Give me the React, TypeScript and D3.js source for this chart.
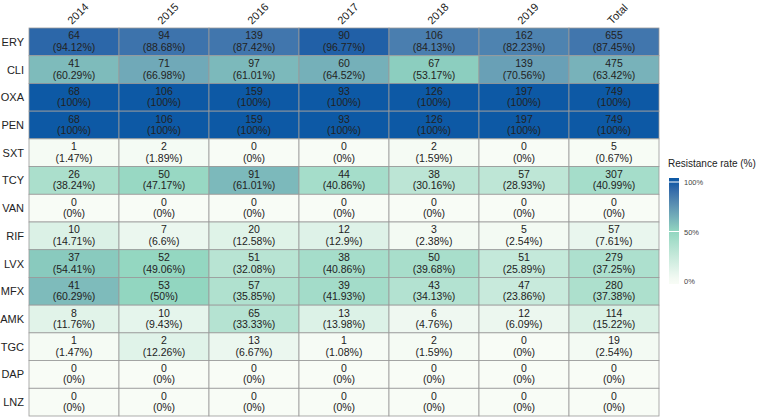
import React from "react";
import * as d3 from "d3";

const columns = ["2014", "2015", "2016", "2017", "2018", "2019", "Total"];
const drugs = ["ERY", "CLI", "OXA", "PEN", "SXT", "TCY", "VAN", "RIF", "LVX", "MFX", "AMK", "TGC", "DAP", "LNZ"];

const counts: number[][] = [
  [64, 94, 139, 90, 106, 162, 655],
  [41, 71, 97, 60, 67, 139, 475],
  [68, 106, 159, 93, 126, 197, 749],
  [68, 106, 159, 93, 126, 197, 749],
  [1, 2, 0, 0, 2, 0, 5],
  [26, 50, 91, 44, 38, 57, 307],
  [0, 0, 0, 0, 0, 0, 0],
  [10, 7, 20, 12, 3, 5, 57],
  [37, 52, 51, 38, 50, 51, 279],
  [41, 53, 57, 39, 43, 47, 280],
  [8, 10, 65, 13, 6, 12, 114],
  [1, 2, 13, 1, 2, 0, 19],
  [0, 0, 0, 0, 0, 0, 0],
  [0, 0, 0, 0, 0, 0, 0],
];

const rates: number[][] = [
  [94.12, 88.68, 87.42, 96.77, 84.13, 82.23, 87.45],
  [60.29, 66.98, 61.01, 64.52, 53.17, 70.56, 63.42],
  [100, 100, 100, 100, 100, 100, 100],
  [100, 100, 100, 100, 100, 100, 100],
  [1.47, 1.89, 0, 0, 1.59, 0, 0.67],
  [38.24, 47.17, 61.01, 40.86, 30.16, 28.93, 40.99],
  [0, 0, 0, 0, 0, 0, 0],
  [14.71, 6.6, 12.58, 12.9, 2.38, 2.54, 7.61],
  [54.41, 49.06, 32.08, 40.86, 39.68, 25.89, 37.25],
  [60.29, 50, 35.85, 41.93, 34.13, 23.86, 37.38],
  [11.76, 9.43, 33.33, 13.98, 4.76, 6.09, 15.22],
  [1.47, 12.26, 6.67, 1.08, 1.59, 0, 2.54],
  [0, 0, 0, 0, 0, 0, 0],
  [0, 0, 0, 0, 0, 0, 0],
];

const legendTicks = [0, 50, 100];
const legendTitle = "Resistance rate (%)";

const W = 760;
const H = 419;
const FONT = "Liberation Sans, Arial, Helvetica, sans-serif";

export default function App() {
  const x = d3.scaleBand<string>().domain(columns).range([29, 659]);
  const y = d3.scaleBand<string>().domain(drugs).range([28, 416]);
  const color = d3
    .scaleLinear<string>()
    .domain([0, 50, 100])
    .range(["#f8fcf6", "#92d6c0", "#0d59a5"])
    .interpolate(d3.interpolateLab)
    .clamp(true);

  const ly = d3.scaleLinear().domain([0, 100]).range([281, 182]);
  const barTop = 178;
  const barBottom = 284;
  const stops = d3.range(0, 21).map((i) => {
    const py = barTop + ((barBottom - barTop) * i) / 20;
    return { off: i / 20, c: color(ly.invert(py)) };
  });

  return (
    <svg
      width={W}
      height={H}
      style={{ position: "absolute", left: 0, top: 0, background: "#fff" }}
      fontFamily={FONT}
    >
      <defs>
        <linearGradient id="lg" x1="0" y1="0" x2="0" y2="1">
          {stops.map((s, i) => (
            <stop key={i} offset={s.off} stopColor={s.c} />
          ))}
        </linearGradient>
      </defs>
      {drugs.map((d, ri) =>
        columns.map((c, ci) => {
          const cx = (x(c) as number) + x.bandwidth() / 2;
          const cy = (y(d) as number) + y.bandwidth() / 2;
          return (
            <g key={d + c}>
              <rect
                x={x(c)}
                y={y(d)}
                width={x.bandwidth()}
                height={y.bandwidth()}
                fill={color(rates[ri][ci])}
                stroke="#9a9a9a"
                strokeWidth={0.8}
              />
              <text x={cx} y={cy - 2.5} textAnchor="middle" fontSize={10.5} fill="#222">
                {counts[ri][ci]}
              </text>
              <text x={cx} y={cy + 9} textAnchor="middle" fontSize={10.5} fill="#222">
                {`(${rates[ri][ci]}%)`}
              </text>
            </g>
          );
        })
      )}
      {drugs.map((d) => (
        <text
          key={d}
          x={24}
          y={(y(d) as number) + y.bandwidth() / 2 + 4}
          textAnchor="end"
          fontSize={11}
          fill="#222"
        >
          {d}
        </text>
      ))}
      {columns.map((c) => {
        const cx = (x(c) as number) + x.bandwidth() / 2 - 2;
        return (
          <text
            key={c}
            transform={`translate(${cx},25) rotate(-45)`}
            textAnchor="start"
            fontSize={11}
            fill="#222"
          >
            {c}
          </text>
        );
      })}
      <text x={668} y={167} fontSize={10} fill="#222">
        {legendTitle}
      </text>
      <rect x={669} y={barTop} width={10} height={barBottom - barTop} fill="url(#lg)" />
      {legendTicks.map((t) => (
        <g key={t}>
          {t > 0 && (
            <line x1={669} x2={679} y1={ly(t)} y2={ly(t)} stroke="#fff" strokeWidth={1} />
          )}
          <text x={684} y={ly(t) + 3} fontSize={7.5} fill="#444">
            {`${t}%`}
          </text>
        </g>
      ))}
    </svg>
  );
}
